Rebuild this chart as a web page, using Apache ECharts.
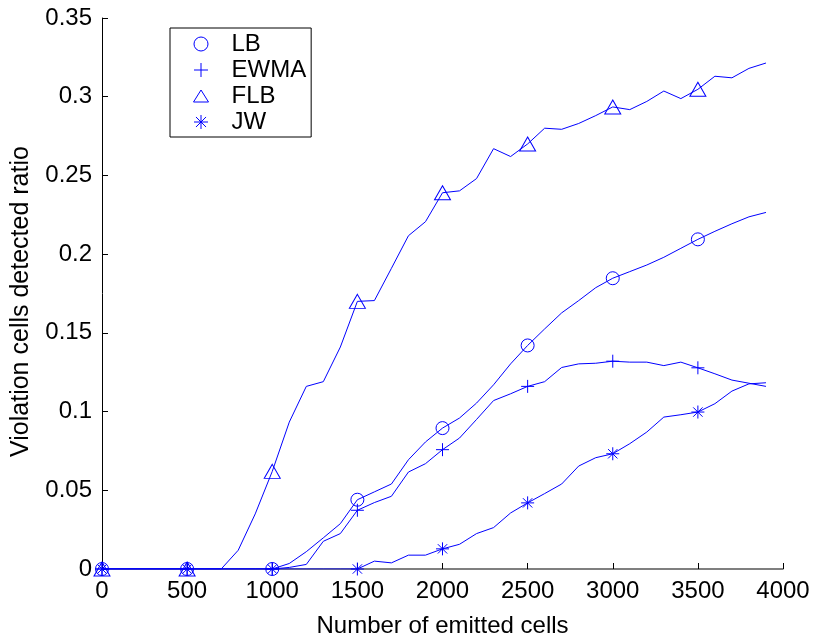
<!DOCTYPE html>
<html>
<head>
<meta charset="utf-8">
<script src="https://cdn.jsdelivr.net/npm/echarts@6/dist/echarts.min.js"></script>
<style>
html,body{margin:0;padding:0;background:#fff;}
#chart{width:814px;height:643px;}
</style>
</head>
<body>
<div id="chart"></div>
<script>
// ---- data ----
const emittedCells = [0,100,200,300,400,500,600,700,800,900,1000,1100,1200,1300,1400,1500,1600,1700,1800,1900,2000,2100,2200,2300,2400,2500,2600,2700,2800,2900,3000,3100,3200,3300,3400,3500,3600,3700,3800,3900];
const LB   = [0,0,0,0,0,0,0,0,0,0,0,0.0035,0.011,0.0198,0.0288,0.044,0.049,0.054,0.0694,0.0807,0.0895,0.0959,0.1054,0.117,0.1303,0.142,0.1525,0.1627,0.1705,0.1787,0.1847,0.1889,0.1931,0.198,0.2037,0.2094,0.2145,0.2193,0.2237,0.2265];
const EWMA = [0,0,0,0,0,0,0,0,0,0,0,0.001,0.0029,0.0176,0.0225,0.0373,0.0422,0.0462,0.0616,0.0669,0.0758,0.0832,0.095,0.107,0.1113,0.116,0.119,0.128,0.1303,0.1307,0.132,0.1314,0.1314,0.1292,0.1314,0.1278,0.124,0.120,0.118,0.116];
const FLB  = [0,0,0,0,0,0,0,0,0.0119,0.035,0.062,0.0933,0.116,0.119,0.141,0.170,0.1705,0.191,0.2117,0.2206,0.239,0.2402,0.248,0.267,0.262,0.270,0.280,0.2793,0.283,0.288,0.2935,0.2918,0.297,0.3036,0.2988,0.3047,0.313,0.312,0.318,0.3214];
const JW   = [0,0,0,0,0,0,0,0,0,0,0,0,0,0,0,0,0.005,0.0039,0.0088,0.0088,0.0128,0.0157,0.0225,0.0263,0.0356,0.042,0.0479,0.054,0.0654,0.0707,0.0732,0.0796,0.087,0.0965,0.098,0.0997,0.105,0.113,0.1176,0.1183];
const seriesNames = ['LB','EWMA','FLB','JW'];
const xTitle = 'Number of emitted cells';
const yTitle = 'Violation cells detected ratio';

// ---- styling ----
const FONT = 'Liberation Sans, Arial, Helvetica, sans-serif';
const BLUE = '#0000ff';
const PLUS = 'path://M0,-1L0,1M-1,0L1,0';
const STAR = 'path://M0,-1L0,1M-1,0L1,0M-0.72,-0.72L0.72,0.72M-0.72,0.72L0.72,-0.72';
const TRI  = 'path://M0,-0.8L1,0.8L-1,0.8Z';
const markers = {
  LB:   {symbol:'circle',   size:13},
  EWMA: {symbol:PLUS,       size:13},
  FLB:  {symbol:'triangle', size:[16,14]},
  JW:   {symbol:STAR,       size:13}
};
const legendIcons = {LB:'circle', EWMA:PLUS, FLB:TRI, JW:STAR};
const values = {LB, EWMA, FLB, JW};
const markStyle = {color:'transparent', borderColor:BLUE, borderWidth:1};

function pairs(ys){ return emittedCells.map((x,i)=>[x, ys[i]]); }

const chart = echarts.init(document.getElementById('chart'), null, {renderer:'canvas'});
chart.setOption({
  animation:false,
  backgroundColor:'#fff',
  grid:{left:102, right:31, top:18, bottom:73, containLabel:false},
  xAxis:{
    type:'value', min:0, max:4000, interval:500,
    name:xTitle, nameLocation:'middle', nameGap:45,
    nameTextStyle:{fontSize:24, fontFamily:FONT, color:'#000'},
    axisLine:{show:true, onZero:false, lineStyle:{color:'#555', width:1.5}},
    axisTick:{show:true, inside:true, length:6, lineStyle:{color:'#000'}},
    axisLabel:{fontSize:24, fontFamily:FONT, color:'#000', margin:10, formatter:v=>String(v)},
    splitLine:{show:false}
  },
  yAxis:{
    type:'value', min:0, max:0.35, interval:0.05,
    name:yTitle, nameLocation:'middle', nameGap:68, nameRotate:90,
    nameTextStyle:{fontSize:25, fontFamily:FONT, color:'#000', padding:[0,16,0,0]},
    axisLine:{show:true, onZero:false, lineStyle:{color:'#000', width:1}},
    axisTick:{show:true, inside:true, length:6, lineStyle:{color:'#000'}},
    axisLabel:{fontSize:24, fontFamily:FONT, color:'#000', margin:10},
    splitLine:{show:false}
  },
  legend:{
    orient:'vertical', left:170, top:28,
    padding:[4,5,3,23], itemGap:2, itemWidth:15, itemHeight:14,
    symbolKeepAspect:true,
    borderColor:'#000', borderWidth:1, backgroundColor:'#fff',
    textStyle:{fontSize:24, fontFamily:FONT, color:'#000', padding:[0,0,0,18]},
    selectedMode:false,
    data: seriesNames.map(n=>({name:n, icon:legendIcons[n], itemStyle:markStyle}))
  },
  series: seriesNames.map(n=>({
    name:n, type:'line',
    data:pairs(values[n]),
    showAllSymbol:true,
    symbol:(v,p)=> (p.dataIndex % 5 === 0 ? markers[n].symbol : 'none'),
    symbolSize:markers[n].size,
    itemStyle:markStyle,
    lineStyle:{color:BLUE, width:1},
    emphasis:{disabled:true},
    z:3
  }))
});
</script>
</body>
</html>
